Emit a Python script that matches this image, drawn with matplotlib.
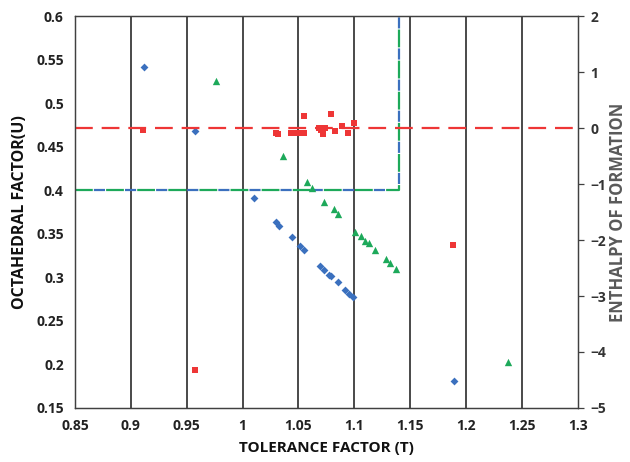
import matplotlib
matplotlib.use("Agg")
import matplotlib.pyplot as plt

plt.rcParams['font.family'] = ['Open Sans', 'DejaVu Sans']
plt.rcParams['font.weight'] = 'bold'

# Blue diamonds: octahedral factor vs tolerance factor
blue_t = [0.912, 0.957, 1.010, 1.030, 1.033, 1.044, 1.051, 1.055, 1.069, 1.073,
          1.077, 1.079, 1.085, 1.092, 1.095, 1.099, 1.189]
blue_u = [0.542, 0.468, 0.391, 0.364, 0.359, 0.346, 0.336, 0.331, 0.313, 0.308,
          0.303, 0.302, 0.295, 0.286, 0.281, 0.277, 0.181]

# Green triangles
green_t = [0.976, 1.036, 1.058, 1.062, 1.073, 1.082, 1.085, 1.101, 1.106, 1.110,
           1.113, 1.119, 1.128, 1.132, 1.137, 1.238]
green_u = [0.526, 0.439, 0.409, 0.403, 0.387, 0.378, 0.373, 0.352, 0.347, 0.342,
           0.340, 0.331, 0.321, 0.316, 0.310, 0.203]

# Red squares: enthalpy of formation (right axis)
red_t = [0.911, 0.957, 1.030, 1.032, 1.043, 1.049, 1.052, 1.055, 1.055, 1.068,
         1.070, 1.072, 1.074, 1.079, 1.083, 1.089, 1.094, 1.100, 1.188]
red_e = [-0.03, -4.33, -0.09, -0.11, -0.08, -0.08, -0.08, -0.08, 0.21, 0.00,
         -0.04, -0.11, 0.01, 0.25, -0.05, 0.03, -0.09, 0.10, -2.08]

x_ticks = [0.85, 0.9, 0.95, 1.0, 1.05, 1.1, 1.15, 1.2, 1.25, 1.3]
x_labels = ['0.85', '0.9', '0.95', '1', '1.05', '1.1', '1.15', '1.2', '1.25', '1.3']
u_ticks = [0.15, 0.2, 0.25, 0.3, 0.35, 0.4, 0.45, 0.5, 0.55, 0.6]
u_labels = ['0.15', '0.2', '0.25', '0.3', '0.35', '0.4', '0.45', '0.5', '0.55', '0.6']
e_ticks = [-5, -4, -3, -2, -1, 0, 1, 2]

u_limit = 0.4
t_limit = 1.14
e_limit = 0.0

BLUE = '#3B70BE'
GREEN = '#1DA95A'
RED = '#EE3636'

fig = plt.figure(figsize=(6.3, 4.62), dpi=100)
ax = fig.add_axes([0.119, 0.117, 0.798, 0.848])
ax2 = ax.twinx()

ax.set_xlim(0.85, 1.3)
ax.set_ylim(0.15, 0.6)
ax2.set_ylim(-5, 2)

# vertical gridlines
for xv in x_ticks[1:-1]:
    ax.axvline(xv, color='#3a3a3a', lw=1.3, zorder=1)

# threshold lines
path_t = [0.85, t_limit, t_limit]
path_u = [u_limit, u_limit, 0.6]
ax.plot(path_t, path_u, color=GREEN, lw=1.6, linestyle=(0, (8, 6)),
        dash_capstyle='butt', zorder=2)
ax.plot(path_t, path_u, color=BLUE, lw=1.6, linestyle=(-8.5, (5, 9)),
        dash_capstyle='butt', zorder=2)
ax2.plot([0.85, 1.3], [e_limit, e_limit], color=RED, lw=1.6,
         linestyle=(0, (8, 4)), zorder=2)

ax.scatter(blue_t, blue_u, marker='D', s=16, color=BLUE, zorder=4, linewidths=0)
ax.scatter(green_t, green_u, marker='^', s=28, color=GREEN, zorder=4, linewidths=0)
ax2.scatter(red_t, red_e, marker='s', s=22, color=RED, zorder=4, linewidths=0)

ax.set_xticks(x_ticks)
ax.set_xticklabels(x_labels)
ax.set_yticks(u_ticks)
ax.set_yticklabels(u_labels)
ax2.set_yticks(e_ticks)

for a in (ax, ax2):
    for s in a.spines.values():
        s.set_color('#404040')
        s.set_linewidth(0.9)
ax.tick_params(axis='x', length=0, pad=8, labelsize=10, colors='#222222')
ax.tick_params(axis='y', length=0, pad=8, labelsize=10, colors='#222222')
ax2.tick_params(axis='y', length=4, direction='out', width=0.9, color='#404040',
                pad=5, labelsize=10, labelcolor='#333333')
for lab in ax.get_xticklabels() + ax.get_yticklabels() + ax2.get_yticklabels():
    lab.set_fontweight('bold')

ax.set_xlabel('TOLERANCE FACTOR (T)', fontsize=11, fontweight='bold', color='#111111', labelpad=6)
ax.set_ylabel('OCTAHEDRAL FACTOR(U)', fontsize=11.5, fontweight='bold', color='#111111', labelpad=6)
ax2.set_ylabel('ENTHALPY OF FORMATION', fontsize=12, fontweight='bold', color='#595959', labelpad=2)

fig.savefig('out.png', dpi=100)
